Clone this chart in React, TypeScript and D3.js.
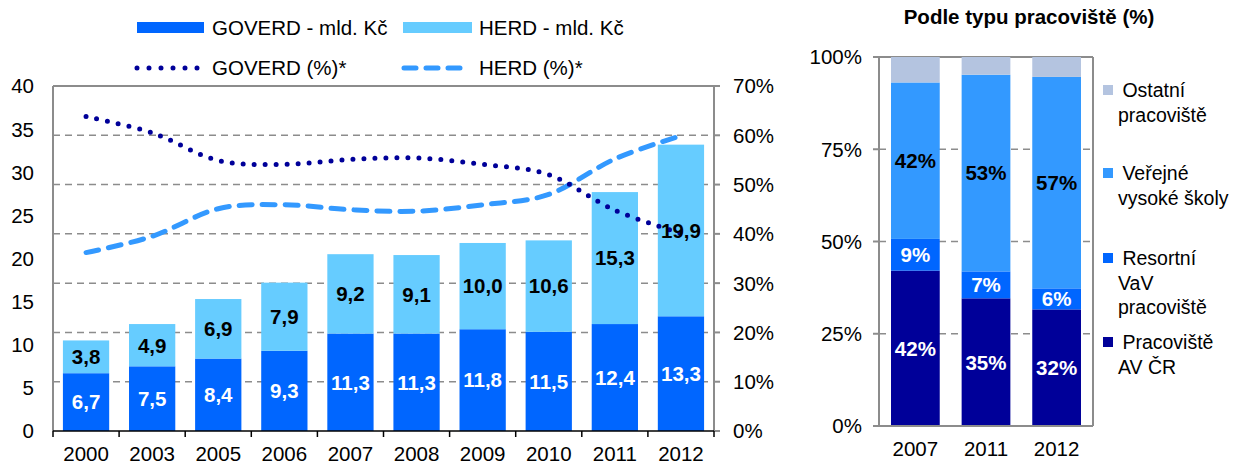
import React from "react";
import * as d3 from "d3";

const years = ["2000", "2003", "2005", "2006", "2007", "2008", "2009", "2010", "2011", "2012"];
const goverd = [6.7, 7.5, 8.4, 9.3, 11.3, 11.3, 11.8, 11.5, 12.4, 13.3];
const herd = [3.8, 4.9, 6.9, 7.9, 9.2, 9.1, 10.0, 10.6, 15.3, 19.9];
const goverdPct = [63.8, 60.5, 54.9, 54.1, 55.1, 55.4, 54.1, 52.0, 44.8, 40.1];
const herdPct = [36.2, 39.5, 45.1, 45.9, 44.9, 44.6, 45.9, 48.0, 55.2, 59.9];
const leftTicks = [0, 5, 10, 15, 20, 25, 30, 35, 40];
const rightTicks = [0, 10, 20, 30, 40, 50, 60, 70];

const typeYears = ["2007", "2011", "2012"];
const avCr = [42.1, 34.6, 31.6];
const resortni = [8.6, 7.3, 5.7];
const vvs = [42.4, 53.3, 57.3];
const ostatni = [6.9, 4.8, 5.4];
const typeTicks = [0, 25, 50, 75, 100];

const FONT = "'Liberation Sans', Arial, sans-serif";
const FS = 20.5;
const C_GOV = "#0066FF";
const C_HERD = "#66CCFF";
const C_GOVL = "#000099";
const C_HERDL = "#3399FF";
const GRID = "#8C8C8C";

function LeftChart() {
  const x0 = 53, x1 = 714, yTop = 86, yBot = 431;
  const x = d3.scaleBand().domain(years).range([x0, x1]).paddingInner(0.3).paddingOuter(0.15);
  const xb = d3.scaleBand().domain(years).range([x0, x1]);
  const y = d3.scaleLinear().domain([0, 40]).range([yBot, yTop]);
  const yp = d3.scaleLinear().domain([0, 70]).range([yBot, yTop]);
  const cx = (i: number) => (xb(years[i]) as number) + xb.bandwidth() / 2;
  const line = d3.line<number>().x((_, i) => cx(i)).y((d) => yp(d)).curve(d3.curveCatmullRom.alpha(0));
  return (
    <g fontFamily={FONT}>
      {rightTicks.slice(1, -1).map((t) => (
        <line key={t} x1={x0} x2={x1} y1={yp(t)} y2={yp(t)} stroke={GRID} strokeWidth={1.5} strokeDasharray="7 5" />
      ))}
      <line x1={x0} x2={x1 + 6} y1={yTop} y2={yTop} stroke={GRID} strokeWidth={2} />
      <line x1={x0} x2={x0} y1={yTop} y2={yBot} stroke={GRID} strokeWidth={2} />
      <line x1={x1} x2={x1} y1={yTop} y2={yBot} stroke={GRID} strokeWidth={2} />
      {rightTicks.map((t) => (
        <line key={t} x1={x1} x2={x1 + 6} y1={yp(t)} y2={yp(t)} stroke={GRID} strokeWidth={2} />
      ))}
      {years.map((yr, i) => (
        <g key={yr}>
          <rect x={x(yr)} width={x.bandwidth()} y={y(goverd[i])} height={yBot - y(goverd[i])} fill={C_GOV} />
          <rect x={x(yr)} width={x.bandwidth()} y={y(goverd[i] + herd[i])} height={y(goverd[i]) - y(goverd[i] + herd[i])} fill={C_HERD} />
        </g>
      ))}
      <line x1={x0} x2={x1} y1={yBot} y2={yBot} stroke="#000" strokeWidth={1.5} />
      {years.map((yr) => (
        <line key={yr} x1={(xb(yr) as number)} x2={(xb(yr) as number)} y1={yBot} y2={yBot + 6} stroke="#000" strokeWidth={1.5} />
      ))}
      <line x1={x1} x2={x1} y1={yBot} y2={yBot + 6} stroke="#000" strokeWidth={1.5} />
      <path d={line(herdPct) || ""} fill="none" stroke={C_HERDL} strokeWidth={5} strokeDasharray="13 10" strokeLinecap="round" />
      <path d={line(goverdPct) || ""} fill="none" stroke={C_GOVL} strokeWidth={5} strokeDasharray="0 11" strokeLinecap="round" />
      {years.map((yr, i) => (
        <g key={yr} fontSize={FS} textAnchor="middle">
          <text x={cx(i)} y={(y(0) + y(goverd[i])) / 2} dy="0.36em" fill="#fff" fontWeight="bold">
            {goverd[i].toFixed(1).replace(".", ",")}
          </text>
          <text x={cx(i)} y={(y(goverd[i]) + y(goverd[i] + herd[i])) / 2} dy="0.36em" fill="#000" fontWeight="bold">
            {herd[i].toFixed(1).replace(".", ",")}
          </text>
          <text x={cx(i)} y={461} fill="#000">{yr}</text>
        </g>
      ))}
      {leftTicks.map((t) => (
        <text key={t} x={34} y={y(t)} dy="0.36em" textAnchor="end" fontSize={FS}>{t}</text>
      ))}
      {rightTicks.map((t) => (
        <text key={t} x={733} y={yp(t)} dy="0.36em" textAnchor="start" fontSize={FS}>{t}%</text>
      ))}
      {/* legend */}
      <rect x={137} y={22} width={67} height={11} fill={C_GOV} />
      <text x={212} y={35} fontSize={FS}>GOVERD - mld. Kč</text>
      <rect x={403} y={22} width={69} height={11} fill={C_HERD} />
      <text x={479} y={35} fontSize={FS}>HERD - mld. Kč</text>
      <line x1={137} x2={199} y1={68} y2={68} stroke={C_GOVL} strokeWidth={5} strokeDasharray="0 12" strokeLinecap="round" />
      <text x={212} y={75} fontSize={FS}>GOVERD (%)*</text>
      <line x1={404} x2={462} y1={68} y2={68} stroke={C_HERDL} strokeWidth={5} strokeDasharray="12 10" strokeLinecap="round" />
      <text x={479} y={75} fontSize={FS}>HERD (%)*</text>
    </g>
  );
}

function RightChart() {
  const x0 = 879, x1 = 1093, yTop = 57, yBot = 426;
  const x = d3.scaleBand().domain(typeYears).range([x0, x1]).paddingInner(0.31).paddingOuter(0.17);
  const y = d3.scaleLinear().domain([0, 100]).range([yBot, yTop]);
  const series = [
    { vals: avCr, color: "#000099", text: "#fff" },
    { vals: resortni, color: "#0066FF", text: "#fff" },
    { vals: vvs, color: "#3399FF", text: "#000" },
    { vals: ostatni, color: "#B4C4E0", text: null as string | null },
  ];
  const legend = [
    { color: "#B4C4E0", lines: [" Ostatní", "pracoviště"], y: 90 },
    { color: "#3399FF", lines: [" Veřejné", "vysoké školy"], y: 173 },
    { color: "#0066FF", lines: [" Resortní", "VaV", "pracoviště"], y: 258 },
    { color: "#000099", lines: [" Pracoviště", "AV ČR"], y: 342 },
  ];
  return (
    <g fontFamily={FONT}>
      <text x={1029} y={24} textAnchor="middle" fontSize={20.5} fontWeight="bold">Podle typu pracoviště (%)</text>
      {typeTicks.slice(1, -1).map((t) => (
        <line key={t} x1={x0} x2={x1} y1={y(t)} y2={y(t)} stroke={GRID} strokeWidth={1.5} strokeDasharray="7 5" />
      ))}
      <line x1={x0 - 6} x2={x1} y1={yTop} y2={yTop} stroke={GRID} strokeWidth={2} />
      <line x1={x1} x2={x1} y1={yTop} y2={yBot} stroke={GRID} strokeWidth={2} />
      {typeYears.map((yr, j) => {
        let acc = 0;
        return (
          <g key={yr}>
            {series.map((s, k) => {
              const v = s.vals[j];
              const yb = y(acc);
              acc += v;
              const yt = y(acc);
              return (
                <g key={k}>
                  <rect x={x(yr)} width={x.bandwidth()} y={yt} height={yb - yt} fill={s.color} />
                  {s.text && (
                    <text x={(x(yr) as number) + x.bandwidth() / 2} y={(yt + yb) / 2} dy="0.36em" textAnchor="middle" fontSize={FS} fontWeight="bold" fill={s.text}>
                      {Math.round(v)}%
                    </text>
                  )}
                </g>
              );
            })}
            <text x={(x(yr) as number) + x.bandwidth() / 2} y={456} textAnchor="middle" fontSize={FS}>{yr}</text>
          </g>
        );
      })}
      <line x1={x0} x2={x0} y1={yTop} y2={yBot} stroke={GRID} strokeWidth={2} />
      <line x1={x0 - 6} x2={x1} y1={yBot} y2={yBot} stroke={GRID} strokeWidth={2} />
      {typeTicks.map((t) => (
        <g key={t}>
          <line x1={x0 - 6} x2={x0} y1={y(t)} y2={y(t)} stroke={GRID} strokeWidth={2} />
          <text x={862} y={y(t)} dy="0.36em" textAnchor="end" fontSize={FS}>{t}%</text>
        </g>
      ))}
      {legend.map((l) => (
        <g key={l.lines[0]}>
          <rect x={1103} y={l.y - 5} width={10} height={10} fill={l.color} />
          {l.lines.map((ln, i) => (
            <text key={i} x={i === 0 ? 1117 : 1118} y={l.y + i * 24.5} dy="0.36em" fontSize={19.5} style={{ whiteSpace: "pre" }}>
              {ln}
            </text>
          ))}
        </g>
      ))}
    </g>
  );
}

export default function App() {
  return (
    <svg width={1246} height={463} style={{ position: "absolute", left: 0, top: 0, background: "#fff" }}>
      <rect width={1246} height={463} fill="#fff" />
      <LeftChart />
      <RightChart />
    </svg>
  );
}
